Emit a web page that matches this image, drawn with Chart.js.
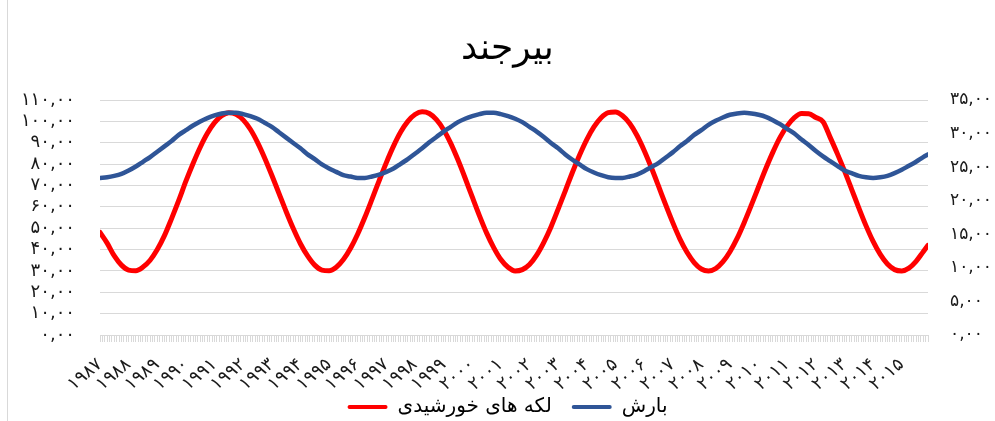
<!DOCTYPE html>
<html>
<head>
<meta charset="utf-8">
<script src="https://cdn.jsdelivr.net/npm/chart.js@4.4.1/dist/chart.umd.min.js"></script>
<style>
  html, body { margin: 0; padding: 0; background: #ffffff; }
  #wrap { position: relative; width: 995px; height: 421px; }
</style>
</head>
<body>
<div id="wrap"><canvas id="c" width="995" height="421"></canvas></div>
<script>
// ---- Data ----
const chartTitle = 'بیرجند';
const seriesNames = ['لکه های خورشیدی', 'بارش'];
const years = [1987,1988,1989,1990,1991,1992,1993,1994,1995,1996,1997,1998,1999,2000,
               2001,2002,2003,2004,2005,2006,2007,2008,2009,2010,2011,2012,2013,2014,2015];
const monthCount = 348;           // monthly categories on the x axis
const sampleStep = 3;             // values read every 3 months (last value at the final month)

// sunspots (left axis), read every 3 months from month 0, last value at month 347
const sunspots = [48,43,37,32.7,30.4,30.1,31.8,35,40,46.5,54.5,63,72,80.3,87.9,94.4,99.4,102.6,104,
  103.3,100.7,96.3,90.2,82.9,74.8,66.3,57.8,49.8,42.7,37,32.7,30.4,30.1,
  31.7,35.3,40.6,47.3,55.1,63.6,72.3,80.7,88.4,95,100,103.2,104.5,
  103.7,100.8,96.1,89.7,82,73.5,64.6,55.9,47.8,40.9,35.3,31.7,30,
  30.6,33,37.4,43.4,50.6,58.9,67.5,76.2,84.3,91.5,97.4,101.7,104.1,104.4,
  102.6,99,93.5,86.5,78.5,69.9,61.1,52.7,45,38.7,33.9,30.9,30,
  31.1,34.2,39,45.2,52.7,60.9,69.4,77.8,85.6,92.5,97.9,101.8,103.7,103.6,
  101.8,99.8,92.5,84.9,76.8,68.2,59.5,51.2,43.8,37.7,33.2,30.6,30,
  31.3,34.5,39,42];

// rainfall (right axis), same sampling
const rainfall = [23.4,23.5,23.7,24,24.5,25.1,25.8,26.5,27.3,28.1,28.9,29.8,30.5,31.2,31.8,32.3,32.7,33,33.1,
  33.1,32.9,32.6,32.2,31.6,31,30.2,29.4,28.6,27.8,26.9,26.2,25.4,24.8,24.3,23.8,23.6,23.4,
  23.4,23.6,23.9,24.3,24.8,25.5,26.2,27,27.8,28.7,29.5,30.3,31,31.7,32.2,32.6,32.9,33.1,
  33.1,32.9,32.6,32.2,31.7,31,30.3,29.5,28.6,27.8,26.9,26.1,25.4,24.7,24.2,23.8,23.5,23.4,
  23.4,23.6,23.9,24.4,25,25.6,26.4,27.2,28.1,28.9,29.8,30.5,31.3,31.9,32.4,32.8,33,33.1,
  33,32.8,32.5,32,31.4,30.7,30,29.1,28.3,27.4,26.6,25.9,25.2,24.5,24.1,23.7,23.5,23.4,
  23.5,23.7,24.1,24.6,25.2,25.8,26.5,26.9];

const leftTickLabels  = ['۰,۰۰','۱۰,۰۰','۲۰,۰۰','۳۰,۰۰','۴۰,۰۰','۵۰,۰۰','۶۰,۰۰','۷۰,۰۰','۸۰,۰۰','۹۰,۰۰','۱۰۰,۰۰','۱۱۰,۰۰'];
const rightTickLabels = ['۰,۰۰','۵,۰۰','۱۰,۰۰','۱۵,۰۰','۲۰,۰۰','۲۵,۰۰','۳۰,۰۰','۳۵,۰۰'];

const colors = { red: '#FF0000', blue: '#2F5597', grid: '#D9D9D9', text: '#1a1a1a' };

// ---- helpers ----
const faDigits = '۰۱۲۳۴۵۶۷۸۹';
const fa = s => String(s).replace(/\d/g, d => faDigits[d]);
const sampleMonth = i => Math.min(i * sampleStep, monthCount - 1);
const toPoints = arr => arr.map((v, i) => ({ x: sampleMonth(i), y: v }));

const FONT = 'DejaVu Sans';

const borderPlugin = {
  id: 'leftBorder',
  beforeDraw(chart) {
    const ctx = chart.ctx;
    ctx.save();
    ctx.strokeStyle = colors.grid;
    ctx.lineWidth = 1;
    ctx.beginPath();
    ctx.moveTo(7.5, 0);
    ctx.lineTo(7.5, chart.height);
    ctx.stroke();
    ctx.restore();
  }
};

new Chart(document.getElementById('c'), {
  type: 'line',
  data: {
    datasets: [
      { label: seriesNames[0], data: toPoints(sunspots), yAxisID: 'y',
        borderColor: colors.red, backgroundColor: colors.red, borderWidth: 5, order: 1 },
      { label: seriesNames[1], data: toPoints(rainfall), yAxisID: 'y1',
        borderColor: colors.blue, backgroundColor: colors.blue, borderWidth: 4.5, order: 0 }
    ]
  },
  options: {
    responsive: false,
    animation: false,
    events: [],
    layout: { padding: { left: 20, right: 0, top: 0, bottom: -6 } },
    elements: {
      point: { radius: 0 },
      line: { cubicInterpolationMode: 'monotone', borderCapStyle: 'round', borderJoinStyle: 'round' }
    },
    plugins: {
      tooltip: { enabled: false },
      title: {
        display: true, text: chartTitle, color: '#000',
        font: { family: FONT, size: 36, weight: 'normal' },
        padding: { top: 28.4, bottom: 28.4 }
      },
      legend: {
        display: true, position: 'bottom',
        labels: {
          font: { family: FONT, size: 20 }, color: '#262626',
          boxWidth: 40, boxHeight: 4, padding: 20,
          generateLabels(chart) {
            return chart.data.datasets.map((ds, i) => ({
              text: ds.label, fillStyle: ds.borderColor, strokeStyle: ds.borderColor,
              lineWidth: 0, borderRadius: 2, datasetIndex: i, hidden: false
            }));
          }
        }
      }
    },
    scales: {
      x: {
        type: 'linear', min: 0, max: monthCount - 1,
        afterFit(s) {
          s.height = 42;
          s._computeLabelArea = () => null;   // let rotated year labels overflow the axis box
        },
        ticks: {
          stepSize: 1, autoSkip: false, minRotation: 40, maxRotation: 40,
          padding: 12, color: colors.text, font: { family: FONT, size: 18 },
          callback(v) { return (v % 12 === 0 && v / 12 < years.length) ? fa(years[v / 12]) : ''; }
        },
        grid: { drawOnChartArea: false, drawTicks: true, tickLength: 7, color: colors.grid },
        border: { display: true, color: colors.grid }
      },
      y: {
        position: 'left', min: 0, max: 110,
        afterFit(s) { s.width = 80; },
        ticks: {
          stepSize: 10, autoSkip: false, padding: 25, color: colors.text, font: { family: FONT, size: 18 },
          callback(v) { return leftTickLabels[Math.round(v / 10)]; }
        },
        grid: { color: colors.grid, drawTicks: false },
        border: { display: false }
      },
      y1: {
        position: 'right', min: 0, max: 35,
        afterFit(s) { s.width = 67; },
        ticks: {
          stepSize: 5, autoSkip: false, padding: 22, color: colors.text, font: { family: FONT, size: 17 },
          callback(v) { return rightTickLabels[Math.round(v / 5)]; }
        },
        grid: { drawOnChartArea: false, drawTicks: false },
        border: { display: false }
      }
    }
  },
  plugins: [borderPlugin]
});
</script>
</body>
</html>
